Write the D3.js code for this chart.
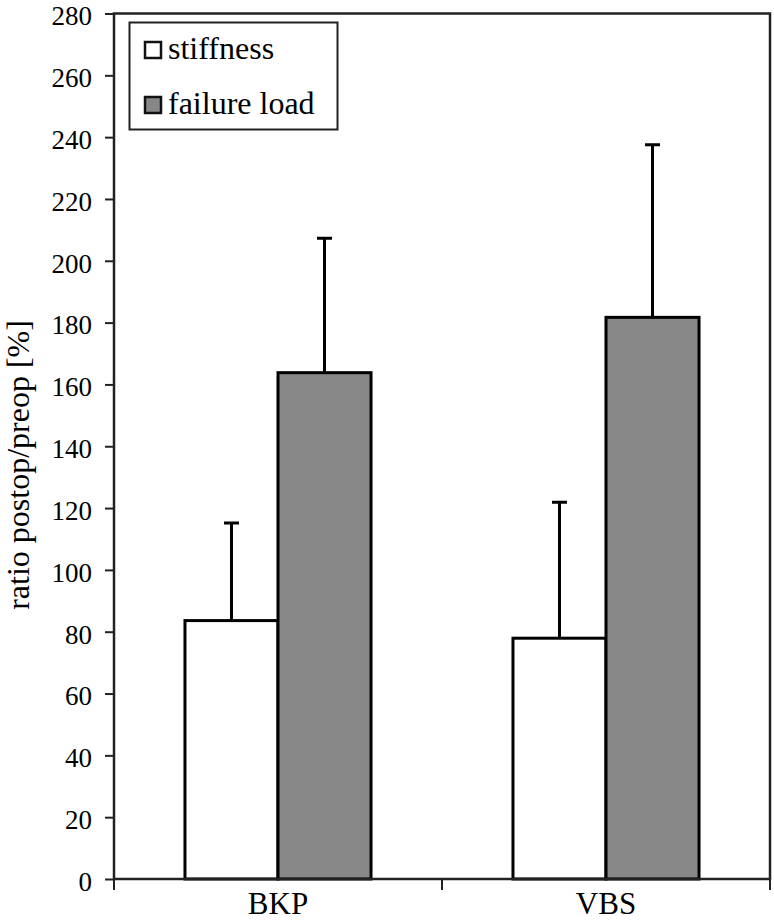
<!DOCTYPE html>
<html><head><meta charset="utf-8">
<script src="https://cdn.jsdelivr.net/npm/d3@7"></script>
<style>body{margin:0;background:#fff}svg{display:block}</style>
</head><body><svg id="c" width="774" height="924"></svg>
<script>
const categories = ["BKP", "VBS"];
const seriesNames = ["stiffness", "failure load"];
const stiffnessMean = [83.6, 77.9];
const stiffnessSD = [31.6, 44.0];
const failureMean = [163.8, 181.7];
const failureSD = [43.5, 55.8];
const yTicks = [0,20,40,60,80,100,120,140,160,180,200,220,240,260,280];
const seriesFill = ["#ffffff", "#878787"];
const FONT = "'Liberation Serif', 'DejaVu Serif', 'Times New Roman', serif";

const rows = categories.map((c,i)=>({cat:c, vals:[
  {s:seriesNames[0], m:stiffnessMean[i], sd:stiffnessSD[i]},
  {s:seriesNames[1], m:failureMean[i], sd:failureSD[i]}]}));

const svg = d3.select("#c");
const L=114, R=770, T=13.5, B=879;
const y = d3.scaleLinear().domain([0,280]).range([B,T]);
const x0 = d3.scaleBand().domain(categories).range([L,R]).paddingInner(0).paddingOuter(0);
const x1 = d3.scaleBand().domain(seriesNames).range([0,x0.bandwidth()]).paddingInner(0).paddingOuter(0.763);
const color = d3.scaleOrdinal().domain(seriesNames).range(seriesFill);

// y axis
const ya = svg.append("g").attr("transform",`translate(${L},0)`)
  .call(d3.axisLeft(y).tickValues(yTicks).tickSize(9).tickPadding(13).tickFormat(d3.format("d")));
ya.attr("font-family",FONT).attr("font-size",27);
ya.select(".domain").remove();
ya.selectAll(".tick line").attr("stroke","#222").attr("stroke-width",2);
ya.selectAll(".tick text").attr("fill","#000").attr("dy","0.42em");

// bars
const g = svg.append("g").selectAll("g").data(rows).join("g")
  .attr("transform",d=>`translate(${x0(d.cat)},0)`);
g.selectAll("rect").data(d=>d.vals).join("rect")
  .attr("x",d=>x1(d.s)).attr("width",x1.bandwidth())
  .attr("y",d=>y(d.m)).attr("height",d=>y(0)-y(d.m))
  .attr("fill",d=>color(d.s)).attr("stroke","#000").attr("stroke-width",3);
// error bars
g.selectAll("path.err").data(d=>d.vals).join("path").attr("class","err")
  .attr("d",d=>{const cx=x1(d.s)+x1.bandwidth()/2;
    return `M${cx},${y(d.m)}V${y(d.m+d.sd)}M${cx-7.5},${y(d.m+d.sd)}H${cx+7.5}`;})
  .attr("stroke","#000").attr("stroke-width",3).attr("fill","none");

// frame
svg.append("rect").attr("x",L).attr("y",T).attr("width",R-L).attr("height",B-T)
  .attr("fill","none").attr("stroke","#222").attr("stroke-width",2.5);

// x axis
const xa = svg.append("g").attr("transform",`translate(0,${B})`)
  .call(d3.axisBottom(x0).tickSize(0).tickPadding(15));
xa.attr("font-family",FONT).attr("font-size",31);
xa.select(".domain").remove();
xa.selectAll(".tick text").attr("fill","#000").attr("dy","0.66em");
const bounds = categories.map(c=>x0(c)).concat([x0(categories[categories.length-1])+x0.step()]);
svg.append("g").selectAll("line").data(bounds).join("line")
  .attr("x1",d=>d).attr("x2",d=>d).attr("y1",B).attr("y2",B+11)
  .attr("stroke","#222").attr("stroke-width",2);

// y title
svg.append("text").attr("transform","translate(29,465) rotate(-90)")
  .attr("text-anchor","middle").attr("font-family",FONT).attr("font-size",32)
  .text("ratio postop/preop [%]");

// legend
const lg = svg.append("g");
lg.append("rect").attr("x",129.5).attr("y",22.5).attr("width",208).attr("height",107)
  .attr("fill","#fff").attr("stroke","#222").attr("stroke-width",2);
const li = lg.selectAll("g").data(seriesNames).join("g")
  .attr("transform",(d,i)=>`translate(0,${i*55})`);
li.append("rect").attr("x",145).attr("y",42).attr("width",16).attr("height",16)
  .attr("fill",d=>color(d)).attr("stroke","#111").attr("stroke-width",2.5);
li.append("text").attr("x",168).attr("y",59).attr("font-family",FONT).attr("font-size",32).text(d=>d);
</script></body></html>
